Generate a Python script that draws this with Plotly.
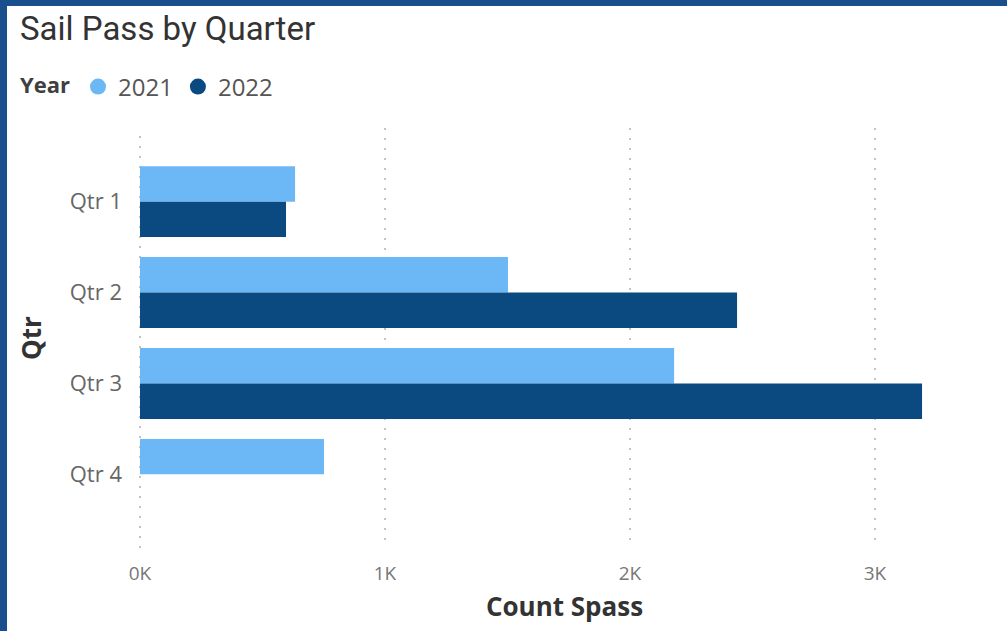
import plotly.graph_objects as go

quarters = ["Qtr 1", "Qtr 2", "Qtr 3", "Qtr 4"]
years = ["2021", "2022"]
count_2021 = [633, 1502, 2180, 751]
count_2022 = [596, 2437, 3192, None]
x_tick_vals = [0, 1000, 2000, 3000]
x_tick_text = ["0K", "1K", "2K", "3K"]
colors = {"2021": "#6CB8F6", "2022": "#0B4A80"}

W, H = 1007, 631
L, R, T, B = 139, 17, 128, 83
pw, ph = W - L - R, H - T - B
px_per_unit = 0.245

def px_x(p):
    return (p - L) / pw

def px_y(p):
    return (H - B - p) / ph

fig = go.Figure()
for yr, vals in zip(years, [count_2021, count_2022]):
    fig.add_trace(go.Bar(
        y=quarters, x=vals, orientation="h", name=yr,
        marker=dict(color=colors[yr], line=dict(width=0)),
        showlegend=False,
    ))
for yr in years:
    fig.add_trace(go.Scatter(
        x=[None], y=[None], mode="markers", name=yr,
        marker=dict(color=colors[yr], size=16, symbol="circle"),
    ))

grid_color = "#c4c4c4"
grid_dash = "2px,8px"
font_main = "Open Sans, Segoe UI, sans-serif"
fig.update_layout(
    width=W, height=H, autosize=False,
    margin=dict(l=L, r=R, t=T, b=B, pad=0),
    paper_bgcolor="white", plot_bgcolor="white",
    barmode="group", bargap=0.22, bargroupgap=0,
    title=dict(text="Sail Pass by Quarter", x=20 / W, xanchor="left",
               xref="container", yref="container", y=1 - 28 / H, yanchor="middle",
               font=dict(family="Roboto, sans-serif", size=33, color="#333333")),
    legend=dict(orientation="h", x=px_x(18), xanchor="left", y=px_y(87), yanchor="middle",
                title=dict(text="<b>Year</b>", font=dict(family=font_main, size=22, color="#3f3f3f")),
                font=dict(family=font_main, size=24, color="#555555"),
                itemwidth=30, tracegroupgap=0, bgcolor="rgba(0,0,0,0)"),
    xaxis=dict(range=[-1 / px_per_unit, (990 - L) / px_per_unit - 1 / px_per_unit],
               tickvals=x_tick_vals, ticktext=x_tick_text,
               showgrid=True, gridcolor=grid_color, griddash=grid_dash, gridwidth=2,
               zeroline=False, showline=False, ticks="",
               tickfont=dict(family=font_main, size=19, color="#777777"),
               ticklabelstandoff=12,
               title=dict(text="<b>Count Spass</b>", standoff=12,
                          font=dict(family=font_main, size=26, color="#333333"))),
    yaxis=dict(range=[3.81, -0.81], type="category", categoryorder="array", categoryarray=quarters,
               showgrid=False, zeroline=False, showline=False, ticks="",
               tickfont=dict(family=font_main, size=22, color="#666666"),
               ticklabelstandoff=16,
               title=dict(text="<b>Qtr</b>", standoff=20,
                          font=dict(family=font_main, size=26, color="#333333"))),
    shapes=[
        dict(type="line", xref="x", yref="paper", x0=x_tick_vals[0], x1=x_tick_vals[0], y0=0, y1=1,
             line=dict(color=grid_color, width=2, dash=grid_dash), layer="below"),
        dict(type="rect", xref="paper", yref="paper", x0=px_x(0), x1=px_x(W), y0=px_y(0), y1=px_y(6),
             fillcolor="#1A4F8E", line=dict(width=0), layer="above"),
        dict(type="rect", xref="paper", yref="paper", x0=px_x(0), x1=px_x(7), y0=px_y(0), y1=px_y(H),
             fillcolor="#1A4F8E", line=dict(width=0), layer="above"),
    ],
)

fig.write_html("out.html", config={"displayModeBar": False},
               post_script="document.body.style.margin='0';")
